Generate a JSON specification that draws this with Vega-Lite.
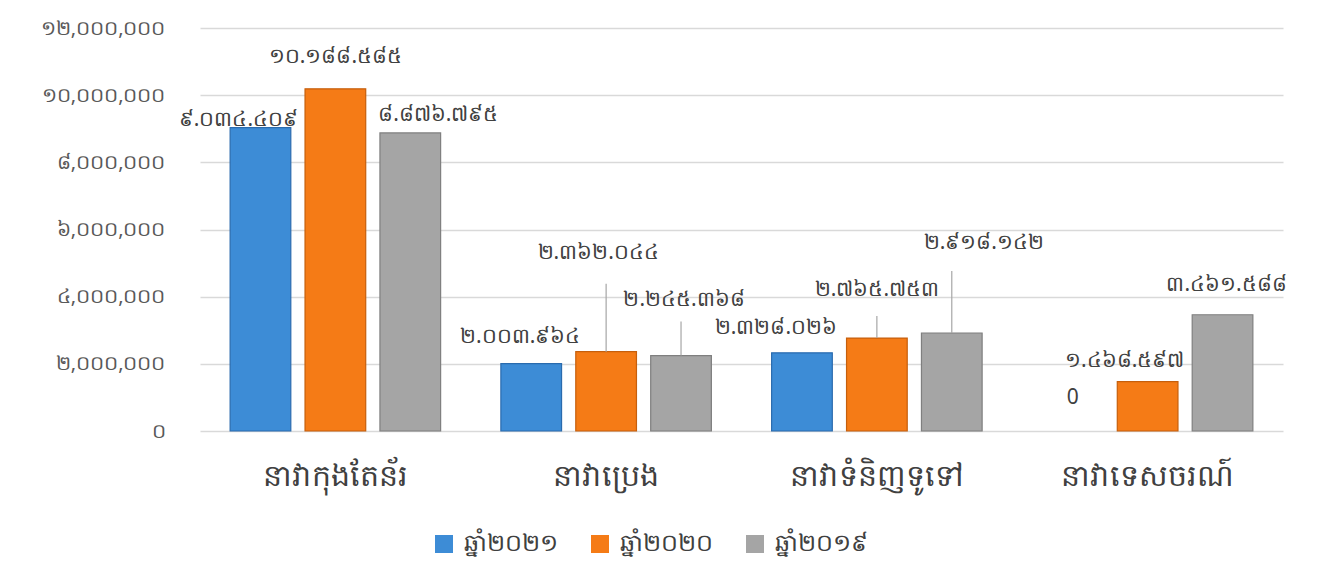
{
  "$schema": "https://vega.github.io/schema/vega-lite/v6.json",
  "width": 1083,
  "height": 403,
  "autosize": {"type": "none"},
  "padding": {"left": 200, "top": 28, "right": 36, "bottom": 155},
  "background": "white",
  "config": {"view": {"stroke": null}, "font": "Noto Sans", "text": {"fontSize": 21, "color": "#404040"}, "rule": {"color": "#A6A6A6", "strokeWidth": 1.2}},
  "data": {
    "values": [
      {"type": "នាវាកុងតែន័រ", "year": "ឆ្នាំ២០២១", "value": 9034409, "label": "៩.០៣៤.៤០៩"},
      {"type": "នាវាកុងតែន័រ", "year": "ឆ្នាំ២០២០", "value": 10188585, "label": "១០.១៨៨.៥៨៥"},
      {"type": "នាវាកុងតែន័រ", "year": "ឆ្នាំ២០១៩", "value": 8876795, "label": "៨.៨៧៦.៧៩៥"},
      {"type": "នាវាប្រេង", "year": "ឆ្នាំ២០២១", "value": 2003964, "label": "២.០០៣.៩៦៤"},
      {"type": "នាវាប្រេង", "year": "ឆ្នាំ២០២០", "value": 2362044, "label": "២.៣៦២.០៤៤"},
      {"type": "នាវាប្រេង", "year": "ឆ្នាំ២០១៩", "value": 2245368, "label": "២.២៤៥.៣៦៨"},
      {"type": "នាវាទំនិញទូទៅ", "year": "ឆ្នាំ២០២១", "value": 2328026, "label": "២.៣២៨.០២៦"},
      {"type": "នាវាទំនិញទូទៅ", "year": "ឆ្នាំ២០២០", "value": 2765753, "label": "២.៧៦៥.៧៥៣"},
      {"type": "នាវាទំនិញទូទៅ", "year": "ឆ្នាំ២០១៩", "value": 2918142, "label": "២.៩១៨.១៤២"},
      {"type": "នាវាទេសចរណ៍", "year": "ឆ្នាំ២០២១", "value": 0, "label": "0"},
      {"type": "នាវាទេសចរណ៍", "year": "ឆ្នាំ២០២០", "value": 1468597, "label": "១.៤៦៨.៥៩៧"},
      {"type": "នាវាទេសចរណ៍", "year": "ឆ្នាំ២០១៩", "value": 3461588, "label": "៣.៤៦១.៥៨៨"}
    ]
  },
  "encoding": {
    "x": {
      "field": "type", "type": "nominal",
      "sort": ["នាវាកុងតែន័រ", "នាវាប្រេង", "នាវាទំនិញទូទៅ", "នាវាទេសចរណ៍"],
      "scale": {"paddingInner": 0.17, "paddingOuter": 0.085},
      "axis": {"title": null, "labelAngle": 0, "ticks": false, "domain": false, "labelFontSize": 30, "labelColor": "#404040", "labelPadding": 30}
    },
    "xOffset": {
      "field": "year", "type": "nominal",
      "sort": ["ឆ្នាំ២០២១", "ឆ្នាំ២០២០", "ឆ្នាំ២០១៩"],
      "scale": {"paddingInner": 0.19, "paddingOuter": 0.095}
    },
    "y": {
      "field": "value", "type": "quantitative",
      "scale": {"domain": [0, 12000000]},
      "axis": {
        "title": null, "values": [0, 2000000, 4000000, 6000000, 8000000, 10000000, 12000000],
        "domain": false, "ticks": false, "labelFontSize": 20, "labelColor": "#595959", "labelPadding": 35,
        "gridColor": "#D9D9D9", "gridWidth": 1.5,
        "labelExpr": "replace(replace(replace(replace(replace(replace(replace(replace(replace(replace(format(datum.value, ','), regexp('0','g'), '០'), regexp('1','g'), '១'), regexp('2','g'), '២'), regexp('3','g'), '៣'), regexp('4','g'), '៤'), regexp('5','g'), '៥'), regexp('6','g'), '៦'), regexp('7','g'), '៧'), regexp('8','g'), '៨'), regexp('9','g'), '៩')"
      }
    }
  },
  "layer": [
    {
      "transform": [{"filter": "datum.value > 0"}],
      "mark": {"type": "bar", "strokeWidth": 1.2},
      "encoding": {
        "color": {
          "field": "year", "type": "nominal",
          "sort": ["ឆ្នាំ២០២១", "ឆ្នាំ២០២០", "ឆ្នាំ២០១៩"],
          "scale": {"range": ["#3D8CD6", "#F57B16", "#A5A5A5"]},
          "legend": {
            "title": null, "orient": "none", "direction": "horizontal", "legendX": 232, "legendY": 504,
            "symbolType": "square", "symbolSize": 324, "symbolStrokeWidth": 0,
            "labelFontSize": 24, "labelColor": "#404040", "columnPadding": 30, "labelOffset": 8
          }
        },
        "stroke": {
          "field": "year", "type": "nominal",
          "sort": ["ឆ្នាំ២០២១", "ឆ្នាំ២០២០", "ឆ្នាំ២០១៩"],
          "scale": {"range": ["#2A6BAE", "#C65F0C", "#7F7F7F"]},
          "legend": null
        }
      }
    },
    {"transform": [{"filter": "datum.type == 'នាវាប្រេង' && datum.year == 'ឆ្នាំ២០២០'"}], "mark": {"type": "rule", "y2Offset": -68, "xOffset": -3}, "encoding": {"y2": {"field": "value"}}},
    {"transform": [{"filter": "datum.type == 'នាវាប្រេង' && datum.year == 'ឆ្នាំ២០១៩'"}], "mark": {"type": "rule", "y2Offset": -34, "xOffset": 2}, "encoding": {"y2": {"field": "value"}}},
    {"transform": [{"filter": "datum.type == 'នាវាទំនិញទូទៅ' && datum.year == 'ឆ្នាំ២០២០'"}], "mark": {"type": "rule", "y2Offset": -22}, "encoding": {"y2": {"field": "value"}}},
    {"transform": [{"filter": "datum.type == 'នាវាទំនិញទូទៅ' && datum.year == 'ឆ្នាំ២០១៩'"}], "mark": {"type": "rule", "y2Offset": -62, "xOffset": 12}, "encoding": {"y2": {"field": "value"}}},

    {"transform": [{"filter": "datum.type == 'នាវាកុងតែន័រ' && datum.year == 'ឆ្នាំ២០២១'"}], "mark": {"type": "text", "dx": -22, "dy": -8}, "encoding": {"text": {"field": "label"}}},
    {"transform": [{"filter": "datum.type == 'នាវាកុងតែន័រ' && datum.year == 'ឆ្នាំ២០២០'"}], "mark": {"type": "text", "dx": 0, "dy": -32}, "encoding": {"text": {"field": "label"}}},
    {"transform": [{"filter": "datum.type == 'នាវាកុងតែន័រ' && datum.year == 'ឆ្នាំ២០១៩'"}], "mark": {"type": "text", "dx": 28, "dy": -18}, "encoding": {"text": {"field": "label"}}},

    {"transform": [{"filter": "datum.type == 'នាវាប្រេង' && datum.year == 'ឆ្នាំ២០២១'"}], "mark": {"type": "text", "dx": -11, "dy": -27}, "encoding": {"text": {"field": "label"}}},
    {"transform": [{"filter": "datum.type == 'នាវាប្រេង' && datum.year == 'ឆ្នាំ២០២០'"}], "mark": {"type": "text", "dx": -8, "dy": -99}, "encoding": {"text": {"field": "label"}}},
    {"transform": [{"filter": "datum.type == 'នាវាប្រេង' && datum.year == 'ឆ្នាំ២០១៩'"}], "mark": {"type": "text", "dx": 3, "dy": -56}, "encoding": {"text": {"field": "label"}}},

    {"transform": [{"filter": "datum.type == 'នាវាទំនិញទូទៅ' && datum.year == 'ឆ្នាំ២០២១'"}], "mark": {"type": "text", "dx": -26, "dy": -25}, "encoding": {"text": {"field": "label"}}},
    {"transform": [{"filter": "datum.type == 'នាវាទំនិញទូទៅ' && datum.year == 'ឆ្នាំ២០២០'"}], "mark": {"type": "text", "dx": 0, "dy": -48}, "encoding": {"text": {"field": "label"}}},
    {"transform": [{"filter": "datum.type == 'នាវាទំនិញទូទៅ' && datum.year == 'ឆ្នាំ២០១៩'"}], "mark": {"type": "text", "dx": 32, "dy": -90}, "encoding": {"text": {"field": "label"}}},

    {"transform": [{"filter": "datum.type == 'នាវាទេសចរណ៍' && datum.year == 'ឆ្នាំ២០២១'"}], "mark": {"type": "text", "dx": 0, "dy": -33}, "encoding": {"text": {"field": "label"}}},
    {"transform": [{"filter": "datum.type == 'នាវាទេសចរណ៍' && datum.year == 'ឆ្នាំ២០២០'"}], "mark": {"type": "text", "dx": -23, "dy": -21}, "encoding": {"text": {"field": "label"}}},
    {"transform": [{"filter": "datum.type == 'នាវាទេសចរណ៍' && datum.year == 'ឆ្នាំ២០១៩'"}], "mark": {"type": "text", "dx": 4, "dy": -30}, "encoding": {"text": {"field": "label"}}}
  ]
}
